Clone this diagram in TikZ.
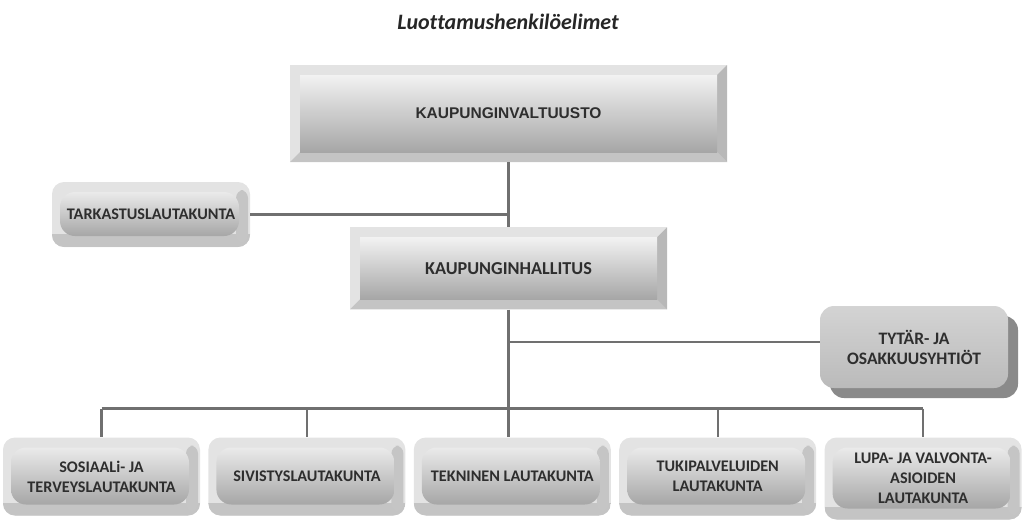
\documentclass[tikz,border=0pt]{standalone}
\usepackage{fontspec}
\setmainfont{Carlito}[Ligatures=NoCommon]
\newfontfamily\arialfont{Liberation Sans}
\usetikzlibrary{positioning,shadows}

\definecolor{frameL}{HTML}{E3E3E3}
\definecolor{frameB}{HTML}{C4C4C4}
\definecolor{frameR}{HTML}{B8B8B8}
\definecolor{faceT}{HTML}{F2F2F2}
\definecolor{faceB}{HTML}{A6A6A6}
\definecolor{txt}{HTML}{2E2E2E}
\definecolor{linkc}{HTML}{707070}

\newlength{\bv}\setlength{\bv}{10pt}

\begin{document}
\begin{tikzpicture}[x=1pt, y=1pt,
		base/.style = {rectangle, inner sep=0pt, align=center, text=txt},
		bevel/.style = {base, fill=frameL,
			path picture={
				\coordinate (ppsw) at (path picture bounding box.south west);
				\coordinate (ppse) at (path picture bounding box.south east);
				\coordinate (ppne) at (path picture bounding box.north east);
				\fill[frameB] (ppsw) -- (ppse) -- ([shift={(-\bv,\bv)}]ppse) -- ([shift={(\bv,\bv)}]ppsw) -- cycle;
				\fill[frameR] (ppse) -- (ppne) -- ([shift={(-\bv,-\bv)}]ppne) -- ([shift={(-\bv,\bv)}]ppse) -- cycle;
				\shade[top color=faceT, bottom color=faceB] ([shift={(\bv,\bv)}]ppsw) rectangle ([shift={(-\bv,-\bv)}]ppne);
			}},
		rbevel/.style = {base, fill=frameL, rounded corners=12pt,
			path picture={
				\coordinate (ppsw) at (path picture bounding box.south west);
				\coordinate (ppse) at (path picture bounding box.south east);
				\coordinate (ppne) at (path picture bounding box.north east);
				\fill[frameB, sharp corners] (ppsw) rectangle ([yshift=13pt]ppse);
				\fill[frameR!70!frameL, rounded corners=8pt] ([shift={(-14pt,4pt)}]ppse) rectangle ([shift={(-2pt,-8pt)}]ppne);
				\shade[top color=faceT!90!faceB, bottom color=faceB, rounded corners=15pt] ([shift={(8pt,11pt)}]ppsw) rectangle ([shift={(-11pt,-10pt)}]ppne);
			}},
		council/.style = {bevel, font=\arialfont\bfseries\fontsize{15.5}{18}\selectfont},
		board/.style = {bevel, font=\bfseries\fontsize{18.2}{21}\selectfont},
		committee/.style = {rbevel, minimum width=197pt, minimum height=78pt,
			font=\bfseries\fontsize{16.2}{20}\selectfont},
		company/.style = {base, rounded corners=14pt, minimum width=188pt, minimum height=82pt,
			top color=black!17, bottom color=black!27,
			drop shadow={shadow xshift=10pt, shadow yshift=-10pt, fill=black!46, opacity=1},
			font=\bfseries\fontsize{17.5}{20}\selectfont},
		title/.style = {font=\bfseries\itshape\fontsize{22}{26}\selectfont, text=black!85},
		link/.style = {draw=linkc, line width=2.4pt}]

		\useasboundingbox (0,0) rectangle (1024,-522);

		% title
		\node[title] (title) at (508,-22) {Luottamushenkilöelimet};

		% council and board
		\node[council, minimum width=437pt, minimum height=97pt] (kv) at (508.5,-113.5) {KAUPUNGINVALTUUSTO};
		\node[board, minimum width=317pt, minimum height=82pt, below=65pt of kv] (kh) {KAUPUNGINHALLITUS};
		\node[committee, minimum width=198pt, minimum height=65pt] (tark) at (151,-214.5) {TARKASTUSLAUTAKUNTA};
		\node[company] (tytar) at (914,-347) {TYTÄR- JA\\OSAKKUUSYHTIÖT};

		% committees under the board
		\node[committee] (sos) at (101.5,-476.5) {SOSIAALi- JA\\TERVEYSLAUTAKUNTA};
		\node[committee, right=8pt of sos] (siv) {SIVISTYSLAUTAKUNTA};
		\node[committee, right=8pt of siv] (tek) {TEKNINEN LAUTAKUNTA};
		\node[committee, right=8pt of tek] (tuki) {TUKIPALVELUIDEN\\LAUTAKUNTA};
		\node[committee, right=8pt of tuki, minimum height=82pt, yshift=-2pt] (lupa) {LUPA- JA VALVONTA-\\ASIOIDEN\\LAUTAKUNTA};

		% connectors
		\coordinate (bus) at ([yshift=-99pt]kh.south);
		\draw[link] (kv) -- (kh);
		\draw[link] (tark.east) -- (tark.east -| kv.south);
		\draw[link] (kh) -- (bus |- tek.north);
		\draw[link] ([yshift=5pt]tytar.west) -- ([yshift=5pt]tytar.west -| bus);
		\draw[link] (sos.north |- bus) -- (lupa.north |- bus);
		\foreach \b in {sos,siv,tuki,lupa}
		\draw[link] (\b.north |- bus) -- (\b.north);
\end{tikzpicture}
\end{document}
